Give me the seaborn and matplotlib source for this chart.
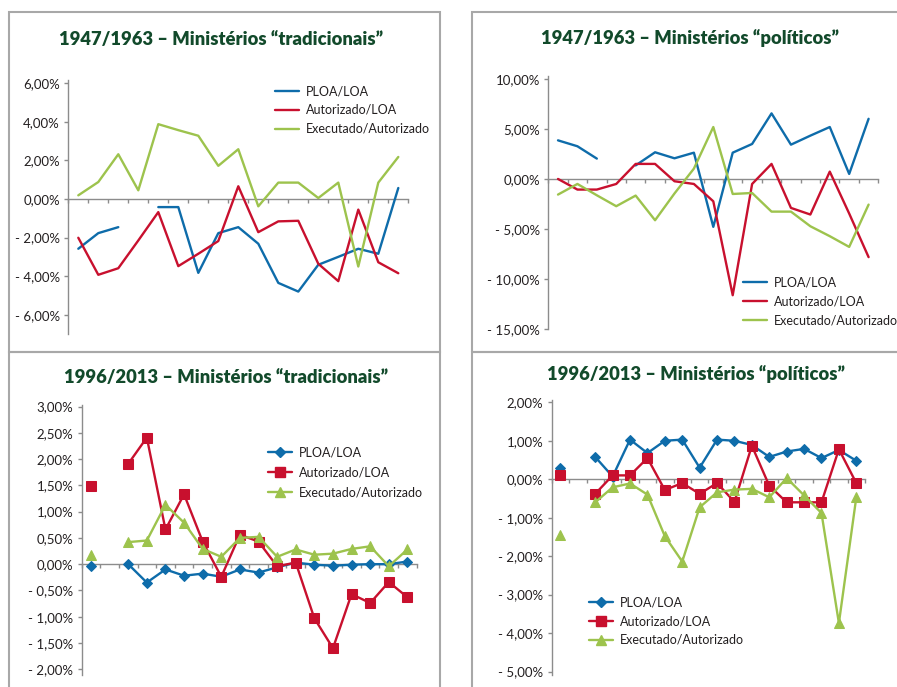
import numpy as np
import pandas as pd
import matplotlib
matplotlib.use("Agg")
import matplotlib.pyplot as plt
import seaborn as sns
from matplotlib.patches import Rectangle
from matplotlib.lines import Line2D

sns.set_theme(style="ticks")
plt.rcParams['font.family'] = ['Lato', 'DejaVu Sans']

nan = np.nan

# ---------------- data ----------------
years_47 = list(range(1947, 1964))
years_96 = list(range(1996, 2014))

series_names = ["PLOA/LOA", "Autorizado/LOA", "Executado/Autorizado"]

trad47_ploa = [-2.58, -1.77, -1.46, nan, -0.42, -0.42, -3.83, -1.77, -1.46, -2.32, -4.35, -4.80, -3.41, -3.00, -2.58, -2.84, 0.57]
trad47_aut = [-2.01, -3.93, -3.59, -2.15, -0.68, -3.48, -2.84, -2.18, 0.66, -1.72, -1.16, -1.13, -3.36, -4.26, -0.55, -3.28, -3.85]
trad47_exe = [0.19, 0.88, 2.32, 0.45, 3.88, 3.57, 3.28, 1.72, 2.58, -0.38, 0.85, 0.85, 0.05, 0.85, -3.50, 0.85, 2.18]

pol47_ploa = [3.85, 3.26, 2.03, nan, 1.35, 2.66, 2.06, 2.62, -4.78, 2.62, 3.49, 6.54, 3.42, 4.32, 5.18, 0.50, 6.00]
pol47_aut = [0.00, -1.06, -1.06, -0.50, 1.50, 1.50, -0.23, -0.50, -2.23, -11.60, -0.50, 1.50, -2.89, -3.55, 0.73, -3.45, -7.80]
pol47_exe = [-1.56, -0.50, -1.63, -2.72, -1.66, -4.12, -1.45, 1.03, 5.18, -1.50, -1.40, -3.26, -3.26, -4.72, -5.71, -6.78, -2.56]

trad96_ploa = [-0.04, nan, 0.00, -0.35, -0.10, -0.22, -0.18, -0.24, -0.10, -0.16, -0.06, 0.03, -0.01, -0.03, -0.01, 0.00, 0.00, 0.05]
trad96_aut = [1.49, nan, 1.91, 2.41, 0.66, 1.33, 0.43, -0.24, 0.56, 0.43, -0.04, 0.03, -1.03, -1.60, -0.57, -0.74, -0.34, -0.63]
trad96_exe = [0.17, nan, 0.42, 0.45, 1.13, 0.79, 0.29, 0.14, 0.50, 0.52, 0.14, 0.28, 0.18, 0.20, 0.29, 0.34, -0.04, 0.28]

pol96_ploa = [0.30, nan, 0.58, 0.07, 1.03, 0.68, 1.00, 1.03, 0.30, 1.03, 1.00, 0.89, 0.58, 0.72, 0.79, 0.55, 0.76, 0.48]
pol96_aut = [0.10, nan, -0.38, 0.10, 0.10, 0.55, -0.28, -0.10, -0.38, -0.10, -0.59, 0.87, -0.17, -0.60, -0.60, -0.60, 0.78, -0.10]
pol96_exe = [-1.46, nan, -0.60, -0.21, -0.11, -0.40, -1.48, -2.14, -0.73, -0.34, -0.27, -0.25, -0.47, 0.03, -0.42, -0.88, -3.74, -0.47]

titles = ["1947/1963 \u2013 Minist\u00e9rios \u201ctradicionais\u201d",
          "1947/1963 \u2013 Minist\u00e9rios \u201cpol\u00edticos\u201d",
          "1996/2013 \u2013 Minist\u00e9rios \u201ctradicionais\u201d",
          "1996/2013 \u2013 Minist\u00e9rios \u201cpol\u00edticos\u201d"]

yticks_1 = [-6, -4, -2, 0, 2, 4, 6]
ylabels_1 = ["- 6,00%", "- 4,00%", "- 2,00%", "0,00%", "2,00%", "4,00%", "6,00%"]
yticks_2 = [-15, -10, -5, 0, 5, 10]
ylabels_2 = ["- 15,00%", "- 10,00%", "- 5,00%", "0,00%", "5,00%", "10,00%"]
yticks_3 = [-2.0, -1.5, -1.0, -0.5, 0.0, 0.5, 1.0, 1.5, 2.0, 2.5, 3.0]
ylabels_3 = ["- 2,00%", "- 1,50%", "- 1,00%", "- 0,50%", "0,00%", "0,50%", "1,00%", "1,50%", "2,00%", "2,50%", "3,00%"]
yticks_4 = [-5, -4, -3, -2, -1, 0, 1, 2]
ylabels_4 = ["- 5,00%", "- 4,00%", "- 3,00%", "- 2,00%", "- 1,00%", "0,00%", "1,00%", "2,00%"]

# ---------------- style ----------------
C_BLUE = "#0e6caa"
C_RED = "#c8102e"
C_GREEN = "#9dc34d"
C_TITLE = "#124a2b"
C_TEXT = "#231f20"
C_AXIS = "#8c8c8c"
C_BORDER = "#a8a8a8"

W, H = 897, 687
fig = plt.figure(figsize=(W / 100, H / 100), dpi=100)
fig.patch.set_facecolor("white")


def ax_at(l, r, t, b):
    return fig.add_axes([l / W, 1 - b / H, (r - l) / W, (b - t) / H])


def draw(ax, values, color, marker, ms):
    df = pd.DataFrame({"x": np.arange(len(values)), "y": values})
    df["seg"] = df["y"].isna().cumsum()
    df = df.dropna()
    kw = dict(color=color, linewidth=1.7)
    if marker:
        kw.update(marker=marker, markersize=ms, markeredgecolor=color, markerfacecolor=color)
    sns.lineplot(data=df, x="x", y="y", units="seg", estimator=None, sort=False,
                 legend=False, ax=ax, **kw)


def style(ax, n, ylim, yticks, ylabels):
    ax.set_xlim(-0.5, n - 0.5)
    ax.set_ylim(*ylim)
    ax.set_xticks(np.arange(-0.5, n, 1.0))
    ax.set_xticklabels([])
    ax.set_yticks(yticks)
    ax.set_yticklabels(ylabels)
    ax.set_xlabel("")
    ax.set_ylabel("")
    ax.spines["top"].set_visible(False)
    ax.spines["right"].set_visible(False)
    ax.spines["bottom"].set_position(("data", 0))
    for s in ("left", "bottom"):
        ax.spines[s].set_color(C_AXIS)
        ax.spines[s].set_linewidth(1.0)
        ax.spines[s].set_zorder(0.5)
    ax.tick_params(axis="both", direction="out", length=3, width=1, color=C_AXIS,
                   bottom=True, left=True)
    ax.tick_params(axis="y", labelsize=9.5, labelcolor=C_TEXT, pad=3)
    ax.patch.set_alpha(0)


def legend(handles, x, yc, spacing=0.55):
    fig.legend(handles=handles, labels=series_names, loc="center left",
               bbox_to_anchor=(x / W, 1 - yc / H), bbox_transform=fig.transFigure,
               frameon=False, fontsize=9, handlelength=1.9, handletextpad=0.6,
               labelspacing=spacing, borderpad=0, borderaxespad=0, labelcolor=C_TEXT,
               numpoints=1)


def title(x, y, s):
    fig.text(x / W, 1 - y / H, s, ha="center", va="center", fontsize=13.2,
             fontweight="heavy", color=C_TITLE)


# panel borders
def border(x0, y0, x1, y1):
    fig.add_artist(Rectangle((x0 / W, 1 - y1 / H), (x1 - x0) / W, (y1 - y0) / H,
                             transform=fig.transFigure, fill=False,
                             edgecolor=C_BORDER, linewidth=1.5))

border(8.5, 12, 440, 352)
border(471.5, 12, 905, 352)
border(8.5, 352, 440, 700)
border(471.5, 352, 905, 700)

# ---------------- panel 1 ----------------
ax1 = ax_at(68.3, 408.3, 80, 334)
draw(ax1, trad47_ploa, C_BLUE, None, 0)
draw(ax1, trad47_aut, C_RED, None, 0)
draw(ax1, trad47_exe, C_GREEN, None, 0)
style(ax1, len(years_47), (-7.0, 6.17), yticks_1, ylabels_1)
title(221, 40, titles[0])
h_plain = [Line2D([], [], color=c, lw=1.7) for c in (C_BLUE, C_RED, C_GREEN)]
legend(h_plain, 275, 110)

# ---------------- panel 2 ----------------
ax2 = ax_at(548.3, 878.3, 76, 329.3)
draw(ax2, pol47_ploa, C_BLUE, None, 0)
draw(ax2, pol47_aut, C_RED, None, 0)
draw(ax2, pol47_exe, C_GREEN, None, 0)
style(ax2, len(years_47), (-15.0, 10.27), yticks_2, ylabels_2)
title(690, 38, titles[1])
legend(h_plain, 743, 301.7)

# ---------------- panel 3 ----------------
ax3 = ax_at(81.7, 416.7, 405, 675)
draw(ax3, trad96_ploa, C_BLUE, "D", 5.5)
draw(ax3, trad96_aut, C_RED, "s", 7.5)
draw(ax3, trad96_exe, C_GREEN, "^", 7.5)
style(ax3, len(years_96), (-2.11, 3.03), yticks_3, ylabels_3)
title(226, 378, titles[2])
h_mark = [Line2D([], [], color=C_BLUE, lw=1.7, marker="D", markersize=5.5),
          Line2D([], [], color=C_RED, lw=1.7, marker="s", markersize=7.5),
          Line2D([], [], color=C_GREEN, lw=1.7, marker="^", markersize=7.5)]
legend(h_mark, 268, 472.5, spacing=0.62)

# ---------------- panel 4 ----------------
ax4 = ax_at(551.7, 865, 400, 675)
draw(ax4, pol96_ploa, C_BLUE, "D", 5.5)
draw(ax4, pol96_aut, C_RED, "s", 7.5)
draw(ax4, pol96_exe, C_GREEN, "^", 7.5)
style(ax4, len(years_96), (-5.09, 2.06), yticks_4, ylabels_4)
title(696, 374, titles[3])
legend(h_mark, 589, 621, spacing=0.55)

fig.savefig("out.png", dpi=100)
